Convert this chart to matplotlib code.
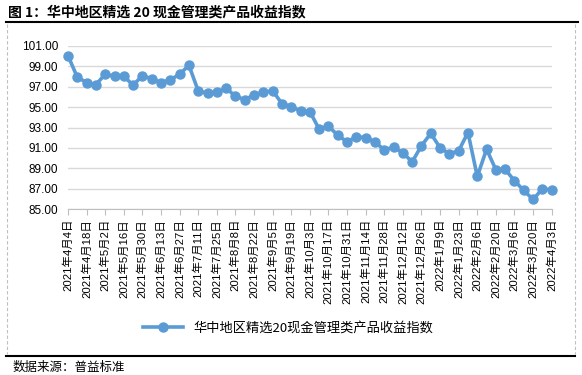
import datetime as dt
import matplotlib
matplotlib.use('Agg')
import matplotlib.pyplot as plt
from matplotlib.lines import Line2D

plt.rcParams['font.family'] = ['Liberation Sans', 'Noto Sans CJK SC', 'DejaVu Sans']

# weekly index values, 2021-04-04 .. 2022-04-03
start = dt.date(2021, 4, 4)
values = [100.02, 97.92, 97.40, 97.20, 98.21, 97.99, 98.02, 97.13, 98.08, 97.76,
          97.40, 97.66, 98.21, 99.08, 96.58, 96.35, 96.45, 96.84, 96.06, 95.73,
          96.18, 96.45, 96.60, 95.33, 95.05, 94.61, 94.56, 92.84, 93.12, 92.25,
          91.60, 92.09, 92.02, 91.57, 90.82, 91.08, 90.52, 89.64, 91.22, 92.42,
          91.02, 90.43, 90.73, 92.51, 88.21, 90.87, 88.87, 88.90, 87.79, 86.84,
          85.96, 87.00, 86.91]
dates = [start + dt.timedelta(weeks=i) for i in range(len(values))]
labels = ['%d年%d月%d日' % (d.year, d.month, d.day) for d in dates]
yticks = [85, 87, 89, 91, 93, 95, 97, 99, 101]

series_name = '华中地区精选20现金管理类产品收益指数'
title = '图 1：华中地区精选 20 现金管理类产品收益指数'
source = '数据来源：普益标准'

blue = '#5B9BD5'

fig = plt.figure(figsize=(5.82, 3.75), dpi=100)
ax = fig.add_axes([68 / 582, 1 - 209.3 / 375, (551.7 - 68) / 582, (209.3 - 45.7) / 375])

x = list(range(len(values)))
ax.plot(x, values, color=blue, lw=2.6, marker='o', ms=6.5, clip_on=False,
        zorder=3, label=series_name)

ax.set_xlim(0, len(values) - 1)
ax.set_ylim(85, 101)
ax.set_yticks(yticks)
ax.set_yticklabels(['%.2f' % v for v in yticks], fontsize=8.5)
ax.tick_params(axis='y', length=0, pad=7)
ax.set_xticks(x[::2])
ax.set_xticklabels(labels[::2], rotation=90, fontsize=8.2)
ax.tick_params(axis='x', length=4, color='#BFBFBF', pad=3)

ax.grid(axis='y', color='#D9D9D9', lw=1)
ax.set_axisbelow(True)
for s in ['left', 'right', 'top']:
    ax.spines[s].set_visible(False)
ax.spines['bottom'].set_color('#BFBFBF')

fig.legend(loc='center', bbox_to_anchor=(0.495, 1 - 328 / 375), frameon=False,
           handlelength=3, prop={'family': ['Noto Sans CJK SC'], 'size': 9.5})

# title, frame lines, source
fig.text(8 / 582, 1 - 12 / 375, title, fontsize=10, fontweight='bold', va='center',
         family=['Noto Sans CJK SC', 'DejaVu Sans'])
fig.add_artist(Line2D([6 / 582, 578 / 582], [1 - 22 / 375] * 2, color='black', lw=1.5))
fig.add_artist(Line2D([6 / 582, 575 / 582], [1 - 355.5 / 375] * 2, color='black', lw=1.5))
for xx in [7, 575]:
    fig.add_artist(Line2D([xx / 582] * 2, [1 - 24 / 375, 1 - 354 / 375],
                          color='#BFBFBF', lw=0.8, ls=(0, (3, 2))))
fig.text(13 / 582, 1 - 367 / 375, source, fontsize=9, va='center',
         family=['Noto Sans CJK SC', 'DejaVu Sans'])

fig.savefig('out.png', dpi=100)
